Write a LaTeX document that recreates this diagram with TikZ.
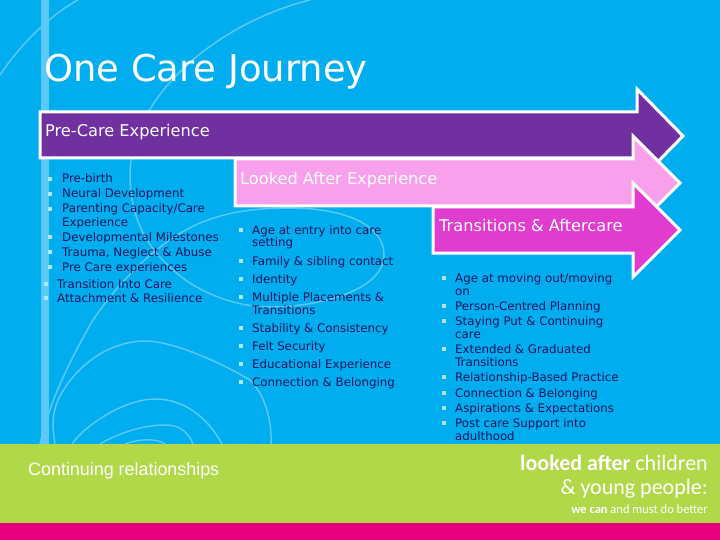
\documentclass[tikz,border=0pt]{standalone}
\usepackage{fontspec}
\setmainfont{DejaVu Sans}
\newfontfamily\arialfont{Liberation Sans}
\newfontfamily\logofont{Carlito}
\usepackage{tikz}
\usetikzlibrary{positioning}
\definecolor{skybg}{HTML}{00AEEF}
\definecolor{swirl}{HTML}{5CC8F5}
\definecolor{navytxt}{HTML}{14145F}
\definecolor{precare}{HTML}{7030A0}
\definecolor{lookedafter}{HTML}{F8A0EC}
\definecolor{transit}{HTML}{E03CD0}
\definecolor{limeband}{HTML}{B0D848}
\definecolor{rosebar}{HTML}{E6007E}
\begin{document}
\begin{tikzpicture}[x=1pt, y=-1pt,
      band/.style={draw=white, line width=3pt, miter limit=10, fill=#1},
      swirlline/.style={draw=swirl, line width=1.5pt},
      head/.style={font=\fontsize{16.2}{16}\selectfont, text=white, anchor=base west, inner sep=0pt},
      item/.style={font=\fontsize{11.8}{13}\selectfont, text=navytxt, anchor=base west, inner sep=0pt},
      tick/.style={fill=#1, minimum size=3.5pt, inner sep=0pt}]
    \useasboundingbox (0,0) rectangle (720,540);

    % Background
    \fill[skybg] (0,0) rectangle (720,540);
    \fill[swirl] (41,0) rectangle (49,444);
    \draw[swirlline] (0,75) .. controls (20,45) and (50,15) .. (78,0);
    \draw[swirlline] (310,0) .. controls (220,22) and (130,95) .. (130,175)
        .. controls (130,215) and (145,245) .. (170,267)
        .. controls (195,292) and (235,307) .. (270,307)
        .. controls (320,307) and (384,290) .. (384,255)
        .. controls (384,225) and (345,208) .. (290,208)
        .. controls (250,208) and (225,213) .. (200,223)
        .. controls (160,240) and (120,280) .. (93,320)
        .. controls (70,360) and (50,400) .. (40,444);
    \draw[swirlline] (55,444) .. controls (52,425) and (52,415) .. (58,400)
        .. controls (75,365) and (110,341) .. (145,341)
        .. controls (175,341) and (225,365) .. (250,380)
        .. controls (265,395) and (272,420) .. (271,444);
    \draw[swirlline] (72,444) .. controls (85,425) and (125,399) .. (155,399) .. controls (190,399) and (212,425) .. (222,444);
    \draw[swirlline] (100,444) .. controls (120,432) and (145,425) .. (165,425) .. controls (180,425) and (188,432) .. (193,444);
    \draw[swirlline] (125,444) .. controls (135,440) and (155,437) .. (165,444);

    % Bottom bands
    \fill[limeband] (0,444) rectangle (720,523);
    \fill[rosebar] (0,523) rectangle (720,540);

    % Arrows
    \draw[band=precare] (40,112) -- (637,112) -- (637,89) -- (683,136) -- (637,183) -- (637,158) -- (40,158) -- cycle;
    \draw[band=lookedafter] (235,159) -- (633,159) -- (633,136) -- (680,183) -- (633,230) -- (633,206) -- (235,206) -- cycle;
    \draw[band=transit] (433,207) -- (633,207) -- (633,183) -- (680,230) -- (633,277) -- (633,253) -- (433,253) -- cycle;

    % Titles
    \node[font=\fontsize{36.9}{37}\selectfont, text=white, anchor=base west, inner sep=0pt] (title) at (44,81.5) {One Care Journey};
    \node[head] (pre)  at (45,136.5)  {Pre-Care Experience};
    \node[head] (look) at (240,184.5) {Looked After Experience};
    \node[head] (trans) at (439,231) {Transitions \& Aftercare};

    % List row macro: #1=name, #2=bullet x, #3=text x, #4=y, #5=text
    \newcommand{\listitem}[5]{%
        \node[tick=white!70!skybg] (#1b) at (#2, #4-3) {};
        \node[item] (#1) at (#3, #4+1) {#5};
    }
    \newcommand{\listcont}[4]{\node[item] (#1) at (#2, #3+1) {#4};}

    %         name  bx   tx   y    text
    \listitem{pa}{50}{62}{182}{Pre-birth}
    \listitem{pb}{50}{62}{197}{Neural Development}
    \listitem{pc}{50}{62}{212}{Parenting Capacity/Care}
    \listcont{pd}{62}{225}{Experience}
    \listitem{pe}{50}{62}{240}{Developmental Milestones}
    \listitem{pf}{50}{62}{255}{Trauma, Neglect \& Abuse}
    \listitem{pg}{50}{62}{270}{Pre Care experiences}
    \listitem{ph}{46}{57}{287}{Transition Into Care}
    \listitem{pi}{46}{57}{301}{Attachment \& Resilience}

    \listitem{la}{241}{252}{233}{Age at entry into care}
    \listcont{lb}{252}{246}{setting}
    \listitem{lc}{241}{252}{264}{Family \& sibling contact}
    \listitem{ld}{241}{252}{282}{Identity}
    \listitem{le}{241}{252}{300}{Multiple Placements \&}
    \listcont{lf}{252}{313}{Transitions}
    \listitem{lg}{241}{252}{331}{Stability \& Consistency}
    \listitem{lh}{241}{252}{349}{Felt Security}
    \listitem{li}{241}{252}{367}{Educational Experience}
    \listitem{lj}{241}{252}{385}{Connection \& Belonging}

    \listitem{ta}{444}{455}{281}{Age at moving out/moving}
    \listcont{tb}{455}{294}{on}
    \listitem{tc}{444}{455}{309}{Person-Centred Planning}
    \listitem{td}{444}{455}{324}{Staying Put \& Continuing}
    \listcont{te}{455}{337}{care}
    \listitem{tf}{444}{455}{352}{Extended \& Graduated}
    \listcont{tg}{455}{365}{Transitions}
    \listitem{th}{444}{455}{380}{Relationship-Based Practice}
    \listitem{ti}{444}{455}{396}{Connection \& Belonging}
    \listitem{tj}{444}{455}{411}{Aspirations \& Expectations}
    \listitem{tk}{444}{455}{426}{Post care Support into}
    \listcont{tl}{455}{439}{adulthood}

    % Footer
    \node[font=\arialfont\fontsize{17.9}{18}\selectfont, text=white, anchor=base west, inner sep=0pt] (cont) at (28,475) {Continuing relationships};
    \node[font=\logofont\fontsize{22}{22}\selectfont, text=white, anchor=base east, inner sep=0pt] (logoa) at (708,470) {\textbf{looked after} children};
    \node[font=\logofont\fontsize{22}{22}\selectfont, text=white, anchor=base east, inner sep=0pt] (logob) at (708,494) {\&\ young people:};
    \node[font=\logofont\fontsize{12.5}{12.5}\selectfont, text=white, anchor=base east, inner sep=0pt] (logoc) at (708,513) {\textbf{we can} and must do better};
\end{tikzpicture}
\end{document}
